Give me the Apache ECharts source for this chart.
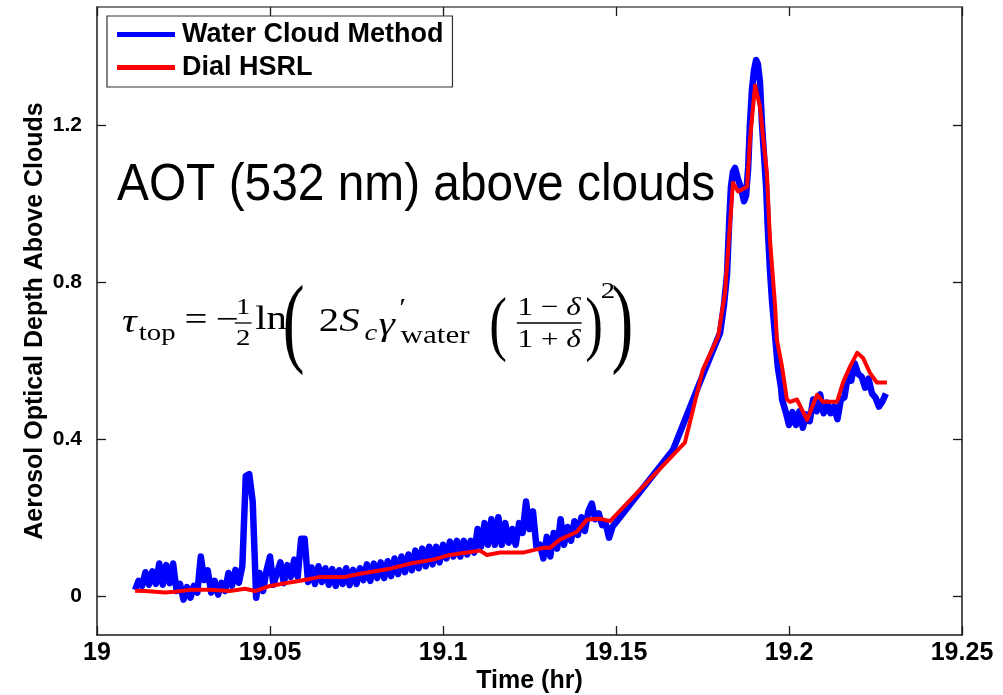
<!DOCTYPE html>
<html>
<head>
<meta charset="utf-8">
<script src="https://cdn.jsdelivr.net/npm/echarts@6/dist/echarts.min.js"></script>
<style>
html,body{margin:0;padding:0;background:#fff;}
#chart{width:1003px;height:695px;}
</style>
</head>
<body>
<div id="chart"></div>
<script>
// ---- data ----
const xTicks = [19, 19.05, 19.1, 19.15, 19.2, 19.25];
const yTicks = [0, 0.4, 0.8, 1.2];

const timeBlue = [
19.011,19.012,19.013,19.014,19.015,19.016,19.017,19.018,19.019,19.020,
19.021,19.022,19.023,19.024,19.025,19.026,19.027,19.028,19.029,19.030,
19.031,19.032,19.033,19.034,19.035,19.036,19.037,19.038,19.039,19.040,
19.041,19.042,19.043,19.044,19.045,19.046,19.047,19.048,19.049,19.050,
19.051,19.052,19.053,19.054,19.055,19.056,19.057,19.058,19.059,19.060,
19.061,19.062,19.063,19.064,19.065,19.066,19.067,19.068,19.069,19.070,
19.071,19.072,19.073,19.074,19.075,19.076,19.077,19.078,19.079,19.080,
19.081,19.082,19.083,19.084,19.085,19.086,19.087,19.088,19.089,19.090,
19.091,19.092,19.093,19.094,19.095,19.096,19.097,19.098,19.099,19.100,
19.101,19.102,19.103,19.104,19.105,19.106,19.107,19.108,19.109,19.110,
19.111,19.112,19.113,19.114,19.115,19.116,19.117,19.118,19.119,19.120,
19.121,19.122,19.123,19.124,19.125,19.126,19.127,19.128,19.129,19.130,
19.131,19.132,19.133,19.134,19.135,19.136,19.137,19.138,19.139,19.140,
19.141,19.142,19.143,19.144,19.145,19.146,19.147,19.148,19.149,
19.1665,19.1743,19.1801,19.1812,19.1821,19.1827,19.1832,19.1838,19.1844,19.1853,
19.1861,19.1870,19.1876,19.1882,19.1887,19.1893,19.1899,19.1905,19.1910,19.1916,
19.1922,19.1928,19.1934,19.1939,19.1945,19.1951,19.1960,19.1968,19.1977,
19.198,19.199,19.200,19.201,19.202,19.203,19.204,19.205,19.206,19.207,
19.208,19.209,19.210,19.211,19.212,19.213,19.214,19.215,19.216,19.217,
19.218,19.219,19.220,19.221,19.222,19.223,19.224,19.225,19.226,19.227,19.228
];
const aotBlue = [
0.015,0.038,0.025,0.06,0.028,0.062,0.03,0.082,0.028,0.078,
0.032,0.082,0.012,0.03,-0.01,0.022,-0.005,0.025,0.008,0.1,
0.04,0.065,0.008,0.038,0.003,0.033,0.012,0.058,0.025,0.066,
0.033,0.075,0.305,0.31,0.24,-0.005,0.058,0.012,0.065,0.1,
0.028,0.058,0.085,0.032,0.078,0.048,0.092,0.048,0.145,0.145,
0.035,0.072,0.03,0.075,0.035,0.07,0.028,0.068,0.025,0.065,
0.03,0.07,0.027,0.066,0.03,0.07,0.04,0.08,0.038,0.082,
0.045,0.085,0.045,0.088,0.05,0.095,0.055,0.1,0.06,0.105,
0.065,0.115,0.07,0.12,0.075,0.125,0.08,0.125,0.085,0.13,
0.095,0.138,0.1,0.14,0.1,0.14,0.105,0.14,0.11,0.17,
0.125,0.185,0.13,0.195,0.13,0.2,0.13,0.185,0.135,0.17,
0.13,0.185,0.16,0.24,0.17,0.215,0.125,0.13,0.095,0.15,
0.1,0.16,0.12,0.195,0.13,0.175,0.14,0.19,0.155,0.2,
0.165,0.215,0.235,0.195,0.21,0.18,0.185,0.148,0.176,
0.372,0.545,0.67,0.74,0.82,0.95,1.04,1.08,1.09,1.06,
1.04,1.005,1.02,1.09,1.2,1.29,1.34,1.365,1.355,1.31,
1.2,1.12,1.04,0.93,0.83,0.75,0.66,0.58,0.53,
0.5,0.47,0.435,0.468,0.435,0.47,0.428,0.462,0.445,0.5,
0.47,0.513,0.465,0.492,0.465,0.482,0.45,0.5,0.505,0.56,
0.548,0.592,0.565,0.558,0.53,0.553,0.515,0.505,0.482,0.495,0.515
];

const timeRed = [
19.0110,19.0139,19.0168,19.0197,19.0225,19.0269,19.0327,19.0384,19.0428,19.0457,
19.0500,19.0543,19.0587,19.0645,19.0717,19.0760,19.0847,19.0905,19.0971,19.1020,
19.1069,19.1107,19.1127,19.1165,19.1231,19.1289,19.1309,19.1338,19.1387,19.1416,
19.1454,19.1483,19.1699,19.1751,19.1795,19.1815,19.1829,19.1838,19.1853,19.1879,
19.1887,19.1902,19.1916,19.1936,19.1945,19.1960,19.1965,19.1980,19.1994,19.2003,
19.2023,19.2052,19.2081,19.2098,19.2139,19.2156,19.2176,19.2197,19.2214,19.2234,
19.2254,19.2283
];
const aotRed = [
0.013,0.012,0.01,0.008,0.01,0.015,0.015,0.012,0.018,0.012,
0.025,0.032,0.038,0.048,0.048,0.056,0.069,0.082,0.092,0.104,
0.11,0.115,0.104,0.11,0.11,0.122,0.122,0.143,0.163,0.194,
0.196,0.19,0.39,0.576,0.66,0.772,0.94,1.052,1.03,1.042,
1.16,1.30,1.246,1.078,0.907,0.736,0.652,0.583,0.5,0.494,
0.5,0.448,0.512,0.494,0.494,0.543,0.583,0.619,0.606,0.568,
0.543,0.543
];

const seriesNames = ['Water Cloud Method', 'Dial HSRL'];
const xTitle = 'Time (hr)';
const yTitle = 'Aerosol Optical Depth Above Clouds';
const annotation = 'AOT (532 nm) above clouds';

// ---- chart ----
const SANS = '"Liberation Sans", Arial, sans-serif';
const SERIF = '"Liberation Serif", "DejaVu Serif", serif';
const AX = '#1a1a1a';

const zip = (a, b) => a.map((v, i) => [v, b[i]]);

function txt(text, x, y, size, o) {
  o = o || {};
  return {
    type: 'text', x: x, y: y, silent: true,
    scaleX: o.sx || 1, scaleY: o.sy || 1,
    style: {
      text: text,
      font: (o.it ? 'italic ' : '') + size + 'px ' + SERIF,
      fill: '#000',
      align: o.align || 'left',
      verticalAlign: 'middle',
      rich: o.rich
    }
  };
}
function bar(x1, x2, y) {
  return {type: 'line', silent: true,
    shape: {x1: x1, y1: y, x2: x2, y2: y},
    style: {stroke: '#000', lineWidth: 1.3}};
}
const richIt = {i: {fontStyle: 'italic', fontSize: 26, fontFamily: SERIF}};

const formula = {
  type: 'group', x: 122, y: 0, scaleX: 1.2, silent: true, z: 50,
  children: [
    txt('τ', 0, 323, 34, {it: true}),
    txt('top', 14, 334, 24),
    txt('=', 52, 321, 34),
    txt('−', 78, 321, 34),
    txt('1', 101, 308, 24, {align: 'center'}),
    bar(94, 108, 323),
    txt('2', 101, 339, 24, {align: 'center'}),
    txt('ln', 111, 320, 34),
    txt('(', 134, 328, 34, {sx: 1.6, sy: 2.95}),
    txt('2', 164, 322, 34),
    txt('S', 181, 322, 34, {it: true}),
    txt('c', 202, 334, 24, {it: true}),
    txt('γ', 214, 326, 34, {it: true}),
    txt('′', 231, 309, 26),
    txt('water', 232, 336, 26),
    txt('(', 306, 328, 34, {sx: 1.3, sy: 2.1}),
    txt('1 − {i|δ}', 356, 308, 26, {align: 'center', rich: richIt}),
    bar(329, 383, 323),
    txt('1 + {i|δ}', 356, 340, 26, {align: 'center', rich: richIt}),
    txt(')', 386, 328, 34, {sx: 1.3, sy: 2.1}),
    txt('2', 399, 292, 24),
    txt(')', 408, 328, 34, {sx: 1.6, sy: 2.95})
  ]
};

const fmtX = v => String(Number(v.toFixed(2)));
const fmtY = v => (Math.abs(v) < 1e-9 ? '0' : v.toFixed(1));

const chart = echarts.init(document.getElementById('chart'), null, {renderer: 'canvas'});
chart.setOption({
  animation: false,
  backgroundColor: '#fff',
  grid: {left: 97, right: 41, top: 7, bottom: 60, containLabel: false, outerBoundsMode: 'none'},
  legend: {
    data: seriesNames.map(n => ({name: n, icon: 'rect'})),
    orient: 'vertical',
    left: 107, top: 16,
    padding: [5, 9, 6, 10],
    itemWidth: 58, itemHeight: 5, itemGap: 6,
    backgroundColor: '#fff',
    borderColor: '#333', borderWidth: 1.2,
    textStyle: {fontSize: 27, fontWeight: 'bold', color: '#000', fontFamily: SANS, padding: [0, 0, 0, 2]},
    z: 60
  },
  xAxis: [{
    type: 'value', position: 'bottom', min: 19, max: 19.25, interval: 0.05,
    axisLine: {onZero: false, lineStyle: {color: AX, width: 1.5}},
    axisTick: {inside: true, length: 9, lineStyle: {color: AX, width: 1.3}},
    axisLabel: {formatter: fmtX, fontSize: 25, fontWeight: 'bold', color: '#000', fontFamily: SANS, margin: 6,
      customValues: xTicks},
    splitLine: {show: false},
    name: xTitle, nameLocation: 'middle', nameGap: 34, nameMoveOverlap: false,
    nameTextStyle: {fontSize: 25, fontWeight: 'bold', color: '#000', fontFamily: SANS}
  }, {
    type: 'value', position: 'top', min: 19, max: 19.25, interval: 0.05,
    axisLine: {onZero: false, lineStyle: {color: '#555', width: 1.5}},
    axisTick: {inside: true, length: 9, lineStyle: {color: AX, width: 1.3}},
    axisLabel: {show: false}, splitLine: {show: false}
  }],
  yAxis: [{
    type: 'value', position: 'left', min: -0.1, max: 1.5, interval: 0.1,
    axisLine: {onZero: false, lineStyle: {color: AX, width: 1.5}},
    axisTick: {inside: true, length: 9, customValues: yTicks, lineStyle: {color: AX, width: 1.3}},
    axisLabel: {formatter: fmtY, customValues: yTicks, fontSize: 21, fontWeight: 'bold', color: '#000', fontFamily: SANS, margin: 15},
    splitLine: {show: false},
    name: yTitle, nameLocation: 'middle', nameRotate: 90, nameGap: 49, nameMoveOverlap: false,
    nameTextStyle: {fontSize: 25, fontWeight: 'bold', color: '#000', fontFamily: SANS}
  }, {
    type: 'value', position: 'right', min: -0.1, max: 1.5, interval: 0.1,
    axisLine: {onZero: false, lineStyle: {color: AX, width: 1.5}},
    axisTick: {inside: true, length: 9, customValues: yTicks, lineStyle: {color: AX, width: 1.3}},
    axisLabel: {show: false}, splitLine: {show: false}
  }],
  series: [{
    name: seriesNames[0], type: 'line', xAxisIndex: 0, yAxisIndex: 0,
    data: zip(timeBlue, aotBlue), showSymbol: false, symbol: 'none',
    lineStyle: {color: '#0000ff', width: 6.5, join: 'round'},
    itemStyle: {color: '#0000ff'}, z: 2
  }, {
    name: seriesNames[1], type: 'line', xAxisIndex: 0, yAxisIndex: 0,
    data: zip(timeRed, aotRed), showSymbol: false, symbol: 'none',
    lineStyle: {color: '#ff0000', width: 4, join: 'round'},
    itemStyle: {color: '#ff0000'}, z: 3
  }],
  graphic: [
    {type: 'text', x: 117, y: 186, silent: true, scaleX: 0.92, z: 50,
     style: {text: annotation, font: '52px ' + SANS, fill: '#000', align: 'left', verticalAlign: 'middle'}},
    formula
  ]
});
</script>
</body>
</html>
